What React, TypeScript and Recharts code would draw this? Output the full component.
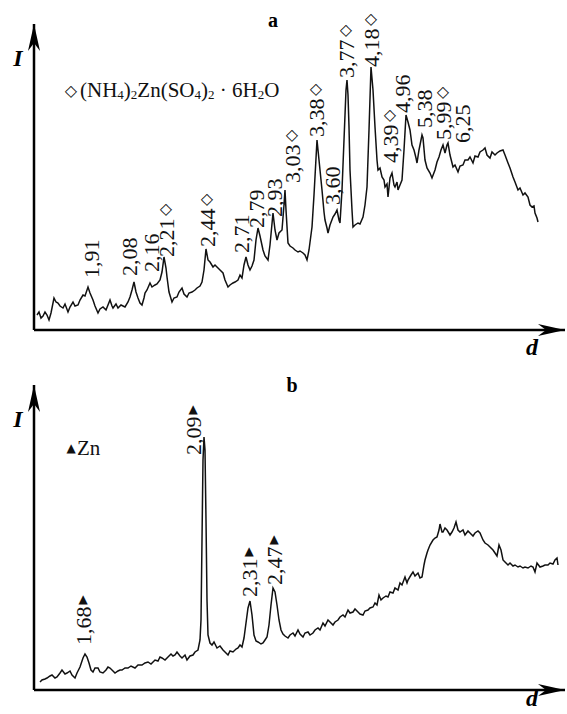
import { Line, LineChart, ReferenceDot, XAxis, YAxis } from 'recharts'

// pattern a: scan position / intensity (arbitrary units)
const posA = [
  3, 5, 7, 9, 11, 13, 15, 17, 20, 22, 24, 26, 29, 31, 34, 36, 39, 41, 44, 46, 49, 51, 54, 56, 59, 61, 64, 66,
  69, 72, 76, 78, 79, 82, 84, 87, 91, 94, 96, 98, 100, 102, 104, 106, 108, 110, 111, 113, 116, 118, 121, 123,
  126, 128, 130, 132, 133, 135, 138, 140, 143, 145, 148, 150, 153, 155, 158, 161, 163, 166, 168, 170, 172, 174,
  176, 179, 181, 184, 186, 189, 191, 194, 196, 199, 201, 204, 206, 208, 210, 212, 214, 216, 218, 220, 222, 224,
  226, 229, 231, 234, 236, 239, 241, 243, 245, 248, 250, 251, 252, 254, 256, 259, 261, 264, 266, 269, 271, 273,
  275, 278, 280, 283, 285, 288, 290, 291, 293, 294, 296, 299, 301, 303, 305, 306, 308, 310, 312, 313, 314, 315,
  316, 318, 319, 321, 324, 326, 329, 331, 333, 335, 337, 339, 341, 343, 344, 346, 348, 350, 351, 353, 354, 356,
  358, 360, 361, 363, 364, 366, 368, 370, 372, 374, 376, 378, 380, 382, 383, 385, 388, 389, 391, 393, 396, 398,
  401, 403, 405, 407, 409, 411, 413, 414, 416, 419, 421, 424, 426, 429, 431, 434, 436, 439, 441, 444, 446, 449,
  451, 453, 456, 458, 461, 463, 466, 469, 471, 474, 476, 479, 481, 484, 486, 489, 491, 494, 496, 498, 500, 501,
  503, 504,
]
const intA = [
  15, 18, 12, 14, 18, 15, 10, 17, 32, 28, 27, 24, 22, 26, 18, 23, 28, 24, 25, 30, 35, 34, 43, 37, 30, 24, 17, 21,
  23, 20, 30, 24, 22, 26, 22, 25, 23, 28, 33, 40, 48, 38, 32, 27, 25, 32, 37, 40, 47, 43, 45, 46,
  50, 58, 73, 62, 53, 38, 28, 32, 33, 38, 42, 36, 33, 37, 38, 40, 42, 44, 48, 60, 81, 70,
  68, 63, 65, 62, 60, 57, 50, 43, 45, 47, 48, 50, 55, 52, 65, 73, 65, 60, 64, 70, 90, 102,
  94, 80, 74, 70, 85, 117, 100, 90, 97, 100, 125, 140, 120, 87, 84, 82, 80, 78, 79, 77, 75, 70,
  80, 103, 135, 190, 170, 140, 118, 110, 102, 97, 105, 113, 116, 120, 110, 107, 140, 190, 240, 250, 235, 203,
  160, 120, 103, 105, 107, 106, 113, 125, 143, 200, 263, 240, 203, 170, 160, 162, 153, 150, 143, 146, 133, 152,
  157, 145, 143, 148, 140, 145, 150, 180, 215, 208, 200, 185, 180, 172, 167, 180, 195, 192, 170, 162, 157, 152,
  160, 168, 173, 180, 185, 177, 185, 187, 175, 163, 165, 158, 164, 165, 170, 170, 173, 167, 174, 173, 178, 180,
  182, 175, 172, 178, 175, 177, 179, 180, 175, 167, 162, 153, 148, 140, 142, 135, 137, 133, 125, 123, 124, 117,
  112, 108,
]

const peakNamesA = ['1,91', '2,08', '2,16', '2,21', '2,44', '2,71', '2,79', '2,93', '3,03', '3,38', '3,60', '3,77', '4,18', '4,39', '4,96', '5,38', '5,99', '6,25']
const peakPosA = [57, 95, 117, 132, 173, 207, 222, 240, 258, 282, 298, 312, 337, 356, 368, 390, 409, 428]
const peakBaseA = [52, 54, 58, 73, 83, 77, 102, 113, 147, 193, 125, 252, 263, 167, 217, 202, 190, 187]
const peakSaltA = [false, false, false, true, true, false, false, false, true, true, false, true, true, true, false, false, true, false]

// pattern b
const posB = [
  6, 8, 11, 13, 16, 18, 21, 23, 26, 28, 31, 33, 36, 38, 41, 43, 46, 49, 51, 53, 55, 57, 59, 61, 64, 66, 69, 72,
  74, 76, 79, 81, 84, 86, 88, 91, 94, 97, 101, 104, 108, 111, 114, 117, 121, 124, 126, 128, 131, 134, 137, 139,
  141, 143, 146, 148, 151, 153, 156, 159, 161, 164, 166, 167, 168, 169, 170, 171, 172, 173, 174, 176, 178, 180,
  183, 186, 189, 191, 194, 196, 199, 202, 204, 206, 208, 210, 212, 214, 216, 218, 220, 222, 224, 227, 229, 231,
  233, 235, 237, 239, 241, 243, 245, 247, 249, 251, 254, 256, 259, 261, 264, 266, 269, 271, 274, 276, 279, 281,
  284, 286, 289, 291, 294, 296, 299, 301, 304, 306, 309, 311, 314, 316, 319, 321, 324, 326, 329, 331, 334, 336,
  339, 341, 343, 345, 347, 349, 352, 354, 356, 359, 361, 364, 366, 368, 371, 373, 374, 377, 379, 381, 384, 386,
  388, 390, 391, 393, 394, 396, 399, 401, 403, 405, 406, 408, 409, 411, 413, 416, 418, 420, 422, 424, 426, 429,
  431, 434, 436, 439, 441, 444, 446, 449, 451, 454, 456, 459, 461, 463, 465, 467, 469, 471, 474, 476, 479, 481,
  484, 486, 489, 491, 494, 497, 499, 501, 503, 506, 509, 511, 514, 516, 519, 521, 523, 524,
]
const intB = [
  8, 10, 11, 12, 14, 15, 12, 13, 17, 20, 16, 17, 19, 15, 12, 17, 23, 32, 36, 33, 27, 20, 18, 22, 22, 18, 17, 20,
  23, 22, 19, 17, 19, 20, 20, 22, 22, 24, 22, 25, 25, 27, 28, 26, 30, 29, 33, 32, 30, 33, 36, 34,
  35, 38, 34, 32, 35, 30, 34, 35, 38, 40, 50, 70, 150, 230, 253, 240, 170, 90, 55, 47, 45, 48,
  42, 44, 40, 38, 35, 39, 38, 41, 42, 45, 43, 52, 67, 82, 89, 75, 55, 49, 48, 46, 47, 50,
  53, 65, 85, 102, 98, 85, 70, 60, 56, 54, 52, 55, 57, 54, 60, 56, 53, 57, 58, 55, 57, 60,
  62, 60, 67, 64, 70, 68, 65, 68, 70, 73, 75, 73, 80, 77, 78, 81, 78, 76, 75, 79, 80, 82,
  83, 87, 85, 95, 90, 92, 94, 93, 98, 97, 102, 100, 107, 105, 113, 107, 110, 115, 118, 114, 117, 112,
  113, 125, 130, 137, 140, 145, 150, 152, 153, 160, 166, 158, 158, 162, 160, 155, 158, 162, 168, 160, 158, 160,
  155, 159, 157, 154, 157, 159, 157, 150, 147, 145, 143, 140, 137, 134, 145, 140, 130, 128, 125, 127, 124, 125,
  123, 124, 122, 123, 122, 124, 123, 118, 127, 123, 124, 125, 125, 127, 126, 130, 132, 125,
]

const peakNamesB = ['1,68', '2,09', '2,31', '2,47']
const peakPosB = [49, 159, 215, 240]
const peakBaseB = [45, 235, 93, 105]

const dataA = posA.map((x, i) => ({ x, y: intA[i] }))
const dataB = posB.map((x, i) => ({ x, y: intB[i] }))

const serif = '"Liberation Serif", "Times New Roman", serif'
const symbolFont = '"DejaVu Sans", sans-serif'

function PeakTag({ cx, cy, text, mark, markGap }: any) {
  return (
    <g>
      <text
        x={cx}
        y={cy}
        dy="0.35em"
        transform={`rotate(-90 ${cx} ${cy})`}
        fontFamily={serif}
        fontSize={22}
        fill="#111"
      >
        {text}
      </text>
      {mark && (
        <text
          x={cx}
          y={cy - markGap}
          textAnchor="middle"
          dominantBaseline="central"
          fontFamily={symbolFont}
          fontSize={mark === '▲' ? 12 : 16}
          fill="#111"
        >
          {mark}
        </text>
      )}
    </g>
  )
}

const makeXArrow = (dy: number) => (props: any) => {
  const { x, y, width } = props.viewBox
  const tx = x + width
  return (
    <g>
      <polygon points={`${tx},${y} ${tx - 27},${y - 6} ${tx - 19},${y} ${tx - 27},${y + 6}`} fill="#000" />
      <text x={tx - 33} y={y + dy} textAnchor="middle" fontFamily={serif} fontSize={24} fontWeight="bold" fontStyle="italic">
        d
      </text>
    </g>
  )
}

function YArrow(props: any) {
  const { x, y, width } = props.viewBox
  const tx = x + width
  return (
    <g>
      <polygon points={`${tx},${y} ${tx - 6},${y + 27} ${tx},${y + 19} ${tx + 6},${y + 27}`} fill="#000" />
      <text x={tx - 16} y={y + 42} textAnchor="middle" fontFamily={serif} fontSize={24} fontWeight="bold" fontStyle="italic">
        I
      </text>
    </g>
  )
}

function Pattern({ data, height, top, xHeight, yMax, dLabelDy, children }: any) {
  return (
    <LineChart width={567} height={height} data={data} margin={{ top, right: 2, bottom: 0, left: 0 }}>
      <XAxis
        type="number"
        dataKey="x"
        domain={[0, 531]}
        allowDataOverflow
        height={xHeight}
        tick={false}
        tickLine={false}
        axisLine={{ stroke: '#000', strokeWidth: 2.5 }}
        label={{ content: makeXArrow(dLabelDy) }}
      />
      <YAxis
        type="number"
        domain={[0, yMax]}
        allowDataOverflow
        width={34}
        tick={false}
        tickLine={false}
        axisLine={{ stroke: '#000', strokeWidth: 2.5 }}
        label={{ content: YArrow }}
      />
      <Line
        type="linear"
        dataKey="y"
        stroke="#111"
        strokeWidth={1.5}
        dot={false}
        isAnimationActive={false}
      />
      {children}
    </LineChart>
  )
}

export default function App() {
  return (
    <div style={{ position: 'absolute', left: 0, top: 0, width: 567, height: 714, background: '#fff', overflow: 'hidden' }}>
      <div style={{ position: 'absolute', left: 0, top: 0 }}>
        <Pattern data={dataA} height={365} top={24} xHeight={35} yMax={306} dLabelDy={25}>
          <ReferenceDot
            x={239}
            y={303}
            r={0}
            ifOverflow="visible"
            shape={(p: any) => (
              <text x={p.cx} y={p.cy} textAnchor="middle" fontFamily={serif} fontSize={20} fontWeight="bold">
                a
              </text>
            )}
          />
          <ReferenceDot
            x={46}
            y={233}
            r={0}
            ifOverflow="visible"
            shape={(p: any) => (
              <g>
                <text x={p.cx - 9} y={p.cy - 7} textAnchor="middle" dominantBaseline="central" fontFamily={symbolFont} fontSize={16} fill="#111">
                  ◇
                </text>
                <text x={p.cx} y={p.cy} fontFamily={serif} fontSize={21} fill="#111">
                  (NH<tspan fontSize={13} dy={2}>4</tspan>
                  <tspan dy={-2}>)</tspan>
                  <tspan fontSize={13} dy={2}>2</tspan>
                  <tspan dy={-2}>Zn(SO</tspan>
                  <tspan fontSize={13} dy={2}>4</tspan>
                  <tspan dy={-2}>)</tspan>
                  <tspan fontSize={13} dy={2}>2</tspan>
                  <tspan dy={-2}> · 6H</tspan>
                  <tspan fontSize={13} dy={2}>2</tspan>
                  <tspan dy={-2}>O</tspan>
                </text>
              </g>
            )}
          />
          {peakNamesA.map((name, i) => (
            <ReferenceDot
              key={name}
              x={peakPosA[i]}
              y={peakBaseA[i]}
              r={0}
              ifOverflow="visible"
              shape={(p: any) => (
                <PeakTag cx={p.cx} cy={p.cy} text={name} mark={peakSaltA[i] ? '◇' : null} markGap={49} />
              )}
            />
          ))}
        </Pattern>
      </div>
      <div style={{ position: 'absolute', left: 0, top: 350 }}>
        <Pattern data={dataB} height={364} top={35} xHeight={24} yMax={305} dLabelDy={16}>
          <ReferenceDot
            x={258}
            y={298}
            r={0}
            ifOverflow="visible"
            shape={(p: any) => (
              <text x={p.cx} y={p.cy} textAnchor="middle" fontFamily={serif} fontSize={20} fontWeight="bold">
                b
              </text>
            )}
          />
          <ReferenceDot
            x={31}
            y={235}
            r={0}
            ifOverflow="visible"
            shape={(p: any) => (
              <g>
                <text x={p.cx + 6} y={p.cy - 7} textAnchor="middle" dominantBaseline="central" fontFamily={symbolFont} fontSize={12} fill="#111">
                  ▲
                </text>
                <text x={p.cx + 12} y={p.cy} fontFamily={serif} fontSize={21} fill="#111">
                  Zn
                </text>
              </g>
            )}
          />
          {peakNamesB.map((name, i) => (
            <ReferenceDot
              key={name}
              x={peakPosB[i]}
              y={peakBaseB[i]}
              r={0}
              ifOverflow="visible"
              shape={(p: any) => <PeakTag cx={p.cx} cy={p.cy} text={name} mark="▲" markGap={46} />}
            />
          ))}
        </Pattern>
      </div>
    </div>
  )
}
